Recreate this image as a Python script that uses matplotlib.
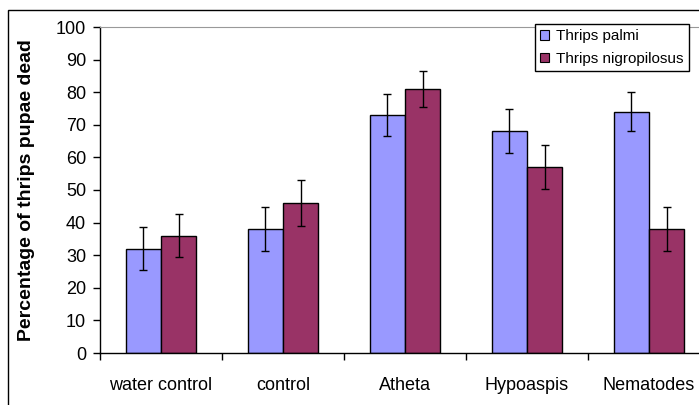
import numpy as np
import matplotlib.pyplot as plt
from matplotlib.patches import Rectangle, Patch

plt.rcParams['font.family'] = ['Liberation Sans', 'DejaVu Sans']

categories = ['water control', 'control', 'Atheta', 'Hypoaspis', 'Nematodes']
palmi = [32, 38, 73, 68, 74]
palmi_err = [6.5, 6.8, 6.3, 6.7, 6.0]
nigro = [36, 46, 81, 57, 38]
nigro_err = [6.7, 7.0, 5.5, 6.8, 6.8]

col_palmi = '#9999FF'
col_nigro = '#993366'

fig = plt.figure(figsize=(6.99, 4.05), dpi=100)
ax = fig.add_axes([100/699, 52/405, 610/699, 326/405])

x = np.arange(len(categories))
w = 0.287
err_kw = dict(elinewidth=1, capthick=1, ecolor='black')
ax.bar(x - w/2, palmi, w, yerr=palmi_err, color=col_palmi, edgecolor='black',
       linewidth=1, capsize=2.8, error_kw=err_kw, label='Thrips palmi')
ax.bar(x + w/2, nigro, w, yerr=nigro_err, color=col_nigro, edgecolor='black',
       linewidth=1, capsize=2.8, error_kw=err_kw, label='Thrips nigropilosus')

ax.set_xlim(-0.5, len(categories) - 0.5)
ax.set_ylim(0, 100)
ax.set_yticks(range(0, 101, 10))
ax.set_xticks(x)
ax.set_xticklabels(categories)
ax.set_xticks(np.arange(-0.5, len(categories)), minor=True)
ax.tick_params(axis='x', which='major', length=0, pad=17, labelsize=13)
ax.tick_params(axis='x', which='minor', length=5, direction='out', width=1)
ax.tick_params(axis='y', length=5, direction='out', width=1, labelsize=13, pad=5)

ax.spines['top'].set_color('#999999')
ax.spines['right'].set_visible(False)
for s in ('left', 'bottom'):
    ax.spines[s].set_linewidth(1)

ax.set_ylabel('Percentage of thrips pupae dead', fontsize=14, fontweight='bold', labelpad=15)

handles = [Patch(facecolor=col_palmi, edgecolor='black', linewidth=0.8),
           Patch(facecolor=col_nigro, edgecolor='black', linewidth=0.8)]
leg = fig.legend(handles, ['Thrips palmi', 'Thrips nigropilosus'],
                 loc='upper right', bbox_to_anchor=(689/699, 1 - 24/405),
                 fontsize=11, fancybox=False, framealpha=1, edgecolor='black',
                 handlelength=0.55, handleheight=0.55, handletextpad=0.5,
                 borderpad=0.35, labelspacing=0.55, borderaxespad=0)
leg.get_frame().set_linewidth(1)

# outer chart border
fig.patches.append(Rectangle((8/699, -0.1), 1.2, 1.1 - 10/405,
                             transform=fig.transFigure, fill=False,
                             edgecolor='black', linewidth=1))

fig.savefig('out.png', dpi=100)
